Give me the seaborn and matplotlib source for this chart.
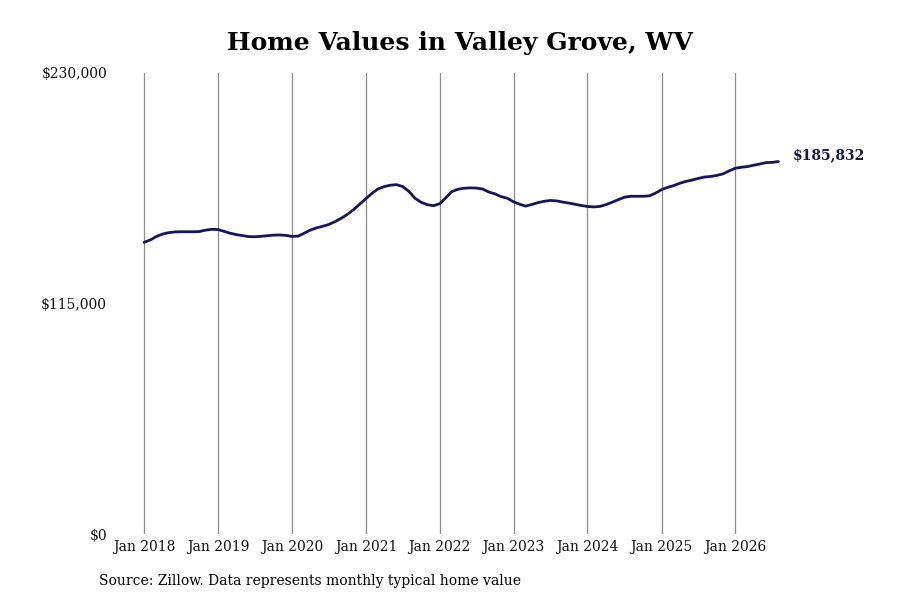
import matplotlib
matplotlib.use("Agg")
import matplotlib.pyplot as plt
import seaborn as sns
import pandas as pd

# ---- data (monthly typical home value, Jan 2018 .. Aug 2026) ----
start_month = "2018-01-01"
values = [
    # 2018
    145500, 146700, 148300, 149600, 150300, 150700, 150800, 150800, 150800, 150900, 151600, 152000,
    # 2019
    151900, 151000, 150100, 149400, 148900, 148400, 148300, 148500, 148800, 149100, 149200, 149000,
    # 2020
    148500, 148600, 150000, 151600, 152700, 153500, 154400, 155800, 157500, 159400, 161800, 164500,
    # 2021
    167300, 170000, 172100, 173300, 174000, 174300, 173400, 171000, 167500, 165500, 164300, 163800,
    # 2022
    164800, 167800, 170800, 172000, 172500, 172700, 172600, 172100, 170600, 169700, 168300, 167500,
    # 2023
    165700, 164500, 163600, 164400, 165300, 166000, 166400, 166200, 165600, 165100, 164500, 163900,
    # 2024
    163400, 163200, 163400, 164300, 165500, 166800, 168000, 168500, 168500, 168500, 168700, 170000,
    # 2025
    171800, 173000, 173800, 175000, 175900, 176600, 177400, 178100, 178400, 178900, 179700, 181200,
    # 2026
    182500, 183000, 183300, 184000, 184600, 185300, 185400, 185832,
]
y_ticks = [0, 115000, 230000]
y_tick_labels = ["$0", "$115,000", "$230,000"]
x_tick_years = list(range(2018, 2027))
x_tick_labels = [f"Jan {y}" for y in x_tick_years]
title = "Home Values in Valley Grove, WV"
source = "Source: Zillow. Data represents monthly typical home value"
end_label = "$185,832"

dates = pd.date_range(start_month, periods=len(values), freq="MS")
df = pd.DataFrame({"date": dates, "value": values})

sns.set_theme(style="white")
FAM = "DejaVu Serif"
plt.rcParams["font.family"] = [FAM]

line_color = "#15145e"

fig = plt.figure(figsize=(9, 6), dpi=100)
ax = fig.add_axes([112 / 900, 66 / 600, 668 / 900, 461 / 600])

sns.lineplot(data=df, x="date", y="value", ax=ax, color=line_color, linewidth=2.0)

ax.set_ylim(0, 230000)
x0 = pd.Timestamp("2018-01-01") - pd.Timedelta(days=158)
x1 = pd.Timestamp("2026-08-01") + pd.Timedelta(days=8)
ax.set_xlim(x0, x1)

ax.set_yticks(y_ticks)
ax.set_yticklabels(y_tick_labels, family=FAM, fontsize=10)
xt = [pd.Timestamp(f"{y}-01-01") for y in x_tick_years]
ax.set_xticks(xt)
ax.set_xticklabels(x_tick_labels, family=FAM, fontsize=10)
ax.tick_params(axis="both", length=0, colors="#111111")
ax.tick_params(axis="x", pad=4)
ax.tick_params(axis="y", pad=3.5)

ax.grid(False)
for t in xt:
    ax.axvline(t, color="#8c8c8c", linewidth=0.9, zorder=0)

for s in ax.spines.values():
    s.set_visible(False)
ax.set_xlabel("")
ax.set_ylabel("")

ax.annotate(end_label, xy=(df["date"].iloc[-1], df["value"].iloc[-1]),
            xytext=(10, 4.5), textcoords="offset points",
            fontsize=10, fontweight="bold", color=line_color, family=FAM,
            va="center", ha="left", annotation_clip=False)

fig.text(460 / 900, 1 - 43 / 600, title, ha="center", va="center",
         fontsize=18, fontweight="bold", color="#000000", family=FAM)
fig.text(99 / 900, 1 - 581 / 600, source, ha="left", va="center",
         fontsize=10, color="#000000", family=FAM)

fig.savefig("out.png", dpi=100, facecolor="white")
